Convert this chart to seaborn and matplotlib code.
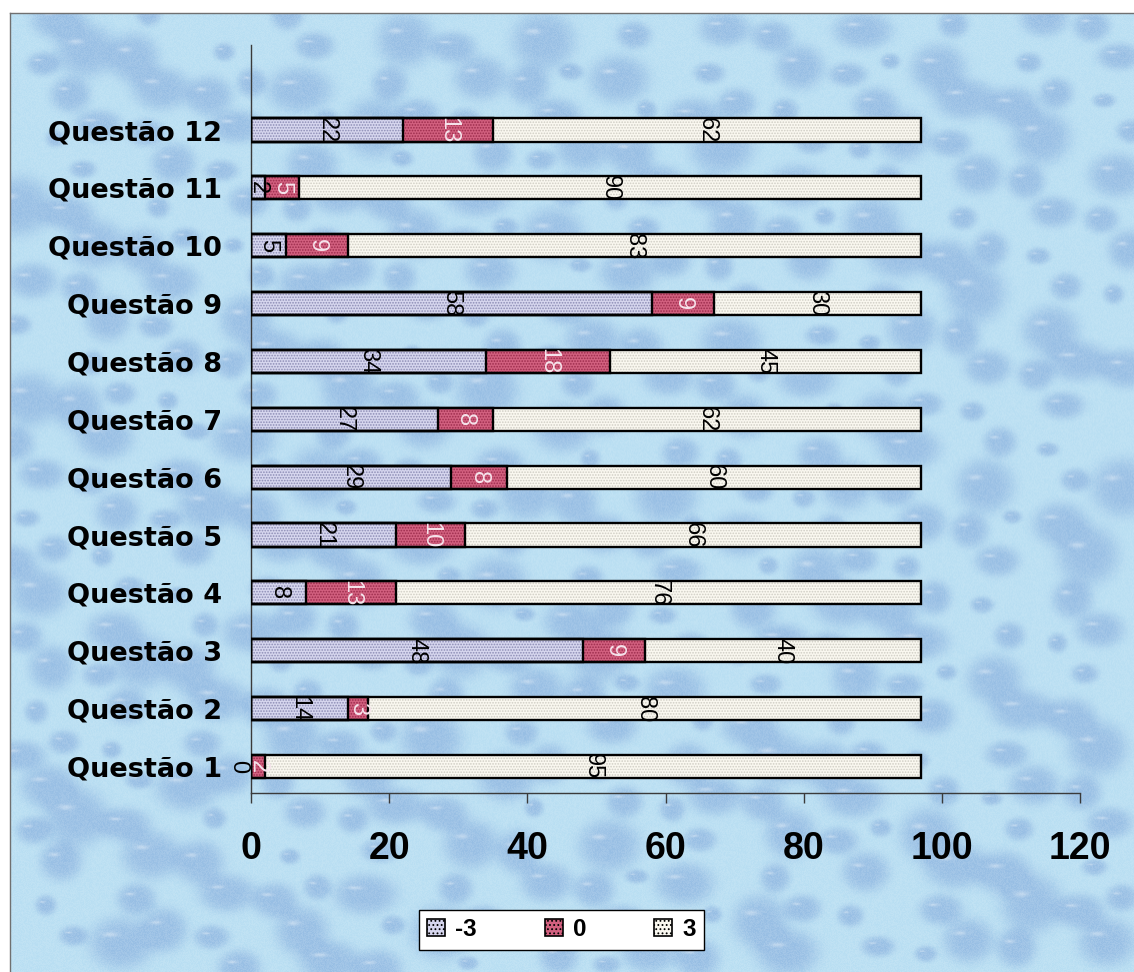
import numpy as np
import pandas as pd
import matplotlib
matplotlib.use("Agg")
import matplotlib.pyplot as plt
import matplotlib.patches as mpatches
from matplotlib.font_manager import FontProperties
import seaborn as sns

# ---- data -------------------------------------------------------------
questions = [f"Questão {i}" for i in range(1, 13)]
neg3 = [0, 14, 48, 8, 21, 29, 27, 34, 58, 5, 2, 22]
zero = [2, 3, 9, 13, 10, 8, 8, 18, 9, 9, 5, 13]
pos3 = [95, 80, 40, 76, 66, 60, 62, 45, 30, 83, 90, 62]
series_names = ["-3", "0", "3"]
x_ticks = [0, 20, 40, 60, 80, 100, 120]

# ---- styling ----------------------------------------------------------
face = {"-3": "#d6d6ee", "0": "#d2607f", "3": "#faf8f0"}
dots = {"-3": "#8c8cb4", "0": "#9c2c4c", "3": "#cfcdc4"}
label_color = {"-3": "black", "0": "#f6e4ec", "3": "black"}

W_PX, H_PX = 1134, 972
fig = plt.figure(figsize=(W_PX / 100, H_PX / 100), dpi=100, facecolor="white")
plt.rcParams["hatch.linewidth"] = 0.8

# ---- water-drop backdrop ---------------------------------------------
bx0, by1 = 10 / W_PX, 1 - 13 / H_PX
bg = fig.add_axes([bx0, 0, 1 - bx0, by1], zorder=0)
TH, TW = 959, 1124
yy, xx = np.mgrid[0:TH, 0:TW].astype(float)
shade = np.zeros((TH, TW))
glint = np.zeros((TH, TW))
a1, a2, a3 = 0.7548776662, 0.5698402910, 0.4142135624
for k in range(1, 420):
    cx = (k * a1) % 1 * TW
    cy = (k * a2) % 1 * TH
    r = 10 + 26 * ((k * a3) % 1)
    ry = r * (0.6 + 0.4 * ((k * 0.318) % 1))
    x0, x1 = int(max(cx - 2 * r, 0)), int(min(cx + 2 * r, TW))
    y0, y1 = int(max(cy - 2 * ry, 0)), int(min(cy + 2 * ry, TH))
    if x1 <= x0 or y1 <= y0:
        continue
    sx = xx[y0:y1, x0:x1]
    sy = yy[y0:y1, x0:x1]
    d = ((sx - cx) / r) ** 2 + ((sy - cy) / ry) ** 2
    shade[y0:y1, x0:x1] += np.exp(-d ** 2 * 1.5)
    dg = ((sx - cx + 0.3 * r) / (0.3 * r)) ** 2 + ((sy - cy + 0.3 * ry) / (0.12 * ry)) ** 2
    glint[y0:y1, x0:x1] += np.exp(-dg * 2)
shade = np.clip(shade, 0, 1)
glint = np.clip(glint, 0, 1)
speck = (np.sin(xx * 12.9898 + yy * 78.233) * 43758.5453) % 1.0
base = np.array([184, 222, 242]) / 255
drop = np.array([128, 168, 218]) / 255
img = base[None, None, :] * (1 - shade[..., None] * 0.6) + drop[None, None, :] * shade[..., None] * 0.6
img = img * (1 - 0.16 * speck[..., None]) + 0.16 * speck[..., None] * np.array([0.97, 0.99, 1.0])
img = img * (1 - glint[..., None] * 0.35) + glint[..., None] * 0.35
bg.imshow(np.clip(img, 0, 1), aspect="auto", interpolation="bilinear")
bg.set_xticks([])
bg.set_yticks([])
for side in ("right", "bottom"):
    bg.spines[side].set_visible(False)
for side in ("left", "top"):
    bg.spines[side].set_color("#707070")
    bg.spines[side].set_linewidth(1.0)

# ---- stacked horizontal bars -----------------------------------------
ax = fig.add_axes([251 / W_PX, 1 - 793 / H_PX, (1080 - 251) / W_PX, (793 - 45) / H_PX], zorder=1)
ax.patch.set_alpha(0)

df = pd.DataFrame({"Questão": questions, "-3": neg3, "0": zero, "3": pos3})
df["end_-3"] = df["-3"]
df["end_0"] = df["-3"] + df["0"]
df["end_3"] = df["-3"] + df["0"] + df["3"]
order = questions[::-1]

for name in ["3", "0", "-3"]:
    sns.barplot(data=df, x=f"end_{name}", y="Questão", order=order, orient="h",
                color=face[name], saturation=1, width=0.4, errorbar=None,
                edgecolor=dots[name], linewidth=0, hatch="......", ax=ax)

# segment outlines
for p in list(ax.patches):
    ax.add_patch(mpatches.Rectangle(p.get_xy(), p.get_width(), p.get_height(),
                                    fill=False, edgecolor="black", linewidth=1.7, zorder=3))

# value labels, rotated and centred on each segment
dfo = df.set_index("Questão").loc[order]
for pos, (q, row) in enumerate(dfo.iterrows()):
    start = 0
    for name in series_names:
        v = row[name]
        if v == 0:
            ax.text(start - 0.3, pos, f"{v}", rotation=-90, ha="right", va="center",
                    fontsize=17, family="Liberation Sans", color=label_color[name], zorder=4)
        else:
            ax.text(start + v / 2, pos, f"{v}", rotation=-90, ha="center", va="center",
                    fontsize=17, family="Liberation Sans", color=label_color[name], zorder=4)
        start += v

ax.set_xlim(0, 120)
ax.set_ylim(11.458, -1.469)
ax.set_xticks(x_ticks)
ax.set_xticklabels([str(t) for t in x_ticks])
ax.set_xlabel("")
ax.set_ylabel("")
for side in ("top", "right"):
    ax.spines[side].set_visible(False)
for side in ("left", "bottom"):
    ax.spines[side].set_color("#3a3a3a")
    ax.spines[side].set_linewidth(1.0)
ax.tick_params(axis="x", direction="out", length=7, width=1, color="#3a3a3a", pad=20)
ax.tick_params(axis="y", length=0, pad=21)
for lab in ax.get_xticklabels():
    lab.set_fontproperties(FontProperties(family="Liberation Sans", weight="bold", size=27))
for lab in ax.get_yticklabels():
    lab.set_fontproperties(FontProperties(family="DejaVu Sans", weight="bold", size=19.5))

# ---- legend -------------------------------------------------------------
handles = [mpatches.Patch(facecolor=face[n], edgecolor="black", hatch="....", linewidth=1.2)
           for n in series_names]
leg = fig.legend(handles, series_names, loc="center", bbox_to_anchor=(0.495, 0.0437),
                 ncol=3, frameon=True, fancybox=False, framealpha=1, edgecolor="black",
                 prop=FontProperties(family="Liberation Sans", weight="bold", size=17.5),
                 handlelength=0.75, handleheight=0.75, handletextpad=0.4,
                 columnspacing=2.8, borderpad=0.35)
leg.get_frame().set_linewidth(1.0)
leg.set_zorder(5)

fig.savefig("out.png", dpi=100, facecolor="white")
